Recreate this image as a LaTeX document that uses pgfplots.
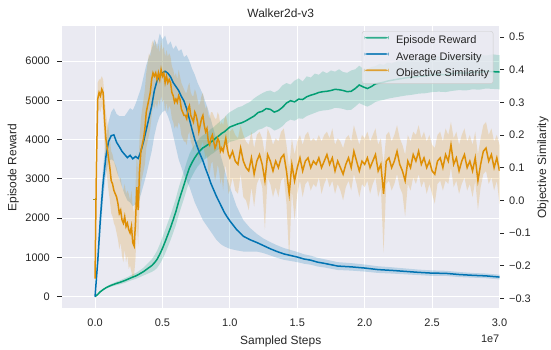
\documentclass[border=0pt]{standalone}
\usepackage{pgfplots}
\pgfplotsset{compat=1.18}
\usepackage{pgfplotstable}
\usepgfplotslibrary{fillbetween}
\usepackage{fontspec}
\setmainfont{Liberation Sans}
\definecolor{cgreen}{HTML}{029E73}
\definecolor{cblue}{HTML}{0173B2}
\definecolor{corange}{HTML}{DE8F05}
\definecolor{bgc}{HTML}{EAEAF2}
\definecolor{txt}{HTML}{262626}
\definecolor{legedge}{HTML}{CCCCCC}

\pgfplotstableread{
x y lo hi
0.00 0 0 0
0.02 60 50 75
0.04 130 115 145
0.06 180 160 200
0.08 225 200 250
0.10 260 230 290
0.12 290 255 325
0.14 315 275 355
0.16 340 295 385
0.18 360 310 410
0.20 385 330 440
0.22 410 350 470
0.24 440 380 500
0.26 470 405 535
0.28 500 430 570
0.30 525 450 600
0.32 560 480 640
0.34 600 510 690
0.36 640 540 740
0.38 690 570 810
0.40 740 600 880
0.42 790 630 950
0.44 860 670 1050
0.46 950 730 1170
0.48 1080 830 1330
0.50 1230 950 1510
0.52 1400 1100 1700
0.54 1580 1270 1890
0.56 1760 1440 2080
0.58 1960 1630 2290
0.60 2170 1830 2510
0.62 2420 2070 2770
0.64 2640 2290 2990
0.66 2850 2500 3200
0.68 3080 2730 3430
0.70 3280 2930 3630
0.72 3420 3070 3770
0.74 3540 3200 3880
0.76 3640 3310 3970
0.78 3720 3390 4050
0.80 3790 3470 4110
0.82 3830 3510 4150
0.84 3880 3560 4200
0.86 3940 3620 4270
0.88 3990 3660 4320
0.90 4050 3720 4380
0.92 4100 3760 4440
0.94 4160 3810 4510
0.96 4200 3840 4560
0.98 4260 3890 4640
1.00 4320 3940 4700
1.03 4360 3970 4760
1.06 4400 4000 4820
1.09 4430 4020 4850
1.12 4480 4060 4910
1.15 4540 4120 4960
1.18 4600 4170 5050
1.21 4690 4250 5120
1.24 4720 4280 5180
1.27 4790 4340 5230
1.30 4770 4310 5250
1.33 4700 4230 5200
1.36 4740 4270 5260
1.39 4820 4340 5380
1.42 4930 4450 5440
1.45 4990 4510 5400
1.48 4960 4480 5500
1.51 5030 4540 5560
1.54 5020 4530 5480
1.57 5090 4600 5610
1.60 5130 4640 5580
1.63 5160 4680 5680
1.66 5200 4720 5650
1.69 5220 4740 5740
1.72 5230 4750 5690
1.75 5250 4770 5760
1.78 5280 4810 5730
1.81 5270 4800 5790
1.84 5250 4780 5720
1.87 5220 4750 5700
1.90 5230 4760 5760
1.93 5300 4840 5790
1.96 5390 4930 5880
1.99 5340 4880 5800
2.02 5300 4840 5790
2.05 5350 4890 5850
2.08 5420 4960 5870
2.11 5440 4990 5930
2.14 5460 5010 5900
2.17 5490 5040 5960
2.20 5510 5060 5940
2.25 5540 5090 6010
2.30 5570 5120 6000
2.35 5590 5140 6060
2.40 5610 5170 6040
2.45 5620 5180 6090
2.50 5650 5210 6070
2.55 5660 5220 6120
2.60 5650 5210 6080
2.65 5680 5240 6130
2.70 5700 5260 6110
2.75 5690 5250 6150
2.80 5720 5280 6130
2.85 5710 5270 6160
2.90 5740 5300 6140
2.95 5730 5290 6170
3.00 5720 5280 6150
}\greendata

\pgfplotstableread{
x y lo hi
0.00 0 0 0
0.02 900 700 1100
0.04 2000 1600 2400
0.06 2900 2500 3300
0.08 3550 3100 4000
0.10 3950 3450 4450
0.12 4100 3500 4700
0.14 4120 3450 4800
0.16 3930 3200 4650
0.18 3820 3000 4600
0.20 3700 2800 4600
0.22 3620 2600 4600
0.24 3540 2450 4700
0.26 3600 2400 4800
0.28 3510 2300 4750
0.30 3570 2350 4900
0.32 3520 2400 5100
0.34 3700 2600 5300
0.36 3950 2850 5600
0.38 4250 3100 5900
0.40 4550 3400 6100
0.42 4850 3700 6300
0.44 5250 4100 6550
0.46 5500 4400 6400
0.48 5620 4600 6700
0.50 5700 4700 6550
0.52 5740 4750 6650
0.54 5690 4600 6400
0.56 5600 4400 6500
0.58 5450 4100 6300
0.60 5350 3800 6400
0.62 5250 3500 6250
0.64 5100 3300 6300
0.66 4980 3100 6100
0.68 4780 2950 6150
0.70 4520 2800 6000
0.72 4250 2600 5800
0.74 4000 2400 5650
0.76 3800 2250 5450
0.78 3620 2100 5300
0.80 3460 1950 5150
0.82 3260 1850 4950
0.84 3080 1750 4750
0.86 2880 1650 4500
0.88 2720 1550 4250
0.90 2560 1450 4000
0.92 2420 1380 3750
0.94 2280 1320 3500
0.96 2140 1280 3250
0.98 2030 1250 3000
1.00 1930 1220 2800
1.05 1710 1180 2300
1.10 1540 1150 1950
1.15 1450 1150 1750
1.20 1380 1150 1600
1.25 1300 1110 1480
1.30 1220 1050 1390
1.35 1150 990 1310
1.40 1090 940 1240
1.45 1050 910 1190
1.50 1010 880 1140
1.55 960 840 1080
1.60 930 815 1045
1.65 880 770 990
1.70 850 745 955
1.80 780 680 880
1.90 760 665 855
2.00 730 640 820
2.10 690 605 775
2.20 670 590 750
2.30 645 570 720
2.40 620 550 690
2.50 600 530 670
2.60 595 530 660
2.70 565 500 630
2.80 545 485 605
2.90 530 470 590
3.00 500 440 560
}\bluedata

\pgfplotstableread{
x y lo hi
0.00 -0.24 -0.25 -0.23
0.01 0.10 0.00 0.20
0.02 0.31 0.26 0.36
0.03 0.33 0.28 0.37
0.04 0.32 0.27 0.37
0.05 0.34 0.29 0.38
0.06 0.33 0.27 0.37
0.07 0.25 0.17 0.32
0.08 0.19 0.10 0.27
0.09 0.16 0.07 0.24
0.10 0.13 0.03 0.22
0.11 0.10 0.00 0.19
0.12 0.06 -0.04 0.15
0.13 0.05 -0.05 0.14
0.14 0.03 -0.07 0.12
0.15 0.02 -0.08 0.11
0.16 0.01 -0.10 0.10
0.17 -0.01 -0.12 0.08
0.18 -0.04 -0.15 0.06
0.19 -0.03 -0.13 0.07
0.20 -0.06 -0.17 0.04
0.21 -0.07 -0.19 0.03
0.22 -0.05 -0.15 0.05
0.23 -0.08 -0.19 0.02
0.24 -0.07 -0.17 0.03
0.25 -0.09 -0.21 0.02
0.26 -0.10 -0.20 0.00
0.27 -0.08 -0.22 0.03
0.28 -0.13 -0.24 -0.02
0.29 -0.14 -0.23 -0.04
0.30 -0.07 -0.18 0.04
0.31 0.04 -0.08 0.15
0.32 -0.03 -0.14 0.08
0.33 0.09 -0.02 0.19
0.34 0.15 0.05 0.25
0.35 0.17 0.07 0.28
0.36 0.19 0.09 0.31
0.37 0.22 0.11 0.34
0.38 0.27 0.16 0.39
0.39 0.29 0.18 0.42
0.40 0.31 0.20 0.45
0.41 0.33 0.22 0.44
0.42 0.37 0.26 0.48
0.43 0.39 0.29 0.49
0.44 0.38 0.28 0.47
0.45 0.39 0.30 0.49
0.46 0.37 0.28 0.46
0.47 0.39 0.31 0.48
0.48 0.37 0.29 0.45
0.49 0.40 0.32 0.49
0.50 0.38 0.30 0.46
0.51 0.39 0.31 0.47
0.52 0.36 0.27 0.44
0.53 0.38 0.30 0.46
0.54 0.36 0.27 0.44
0.55 0.37 0.29 0.45
0.56 0.36 0.28 0.44
0.57 0.33 0.25 0.41
0.58 0.32 0.24 0.40
0.59 0.30 0.22 0.38
0.60 0.31 0.23 0.39
0.61 0.30 0.22 0.37
0.62 0.32 0.24 0.40
0.63 0.31 0.23 0.38
0.64 0.28 0.20 0.36
0.65 0.27 0.19 0.35
0.66 0.26 0.18 0.34
0.67 0.26 0.18 0.33
0.68 0.25 0.17 0.33
0.69 0.28 0.20 0.35
0.70 0.29 0.21 0.36
0.71 0.26 0.18 0.33
0.72 0.25 0.17 0.32
0.73 0.24 0.15 0.32
0.74 0.27 0.19 0.34
0.75 0.26 0.18 0.33
0.76 0.24 0.16 0.31
0.77 0.21 0.12 0.29
0.78 0.23 0.15 0.30
0.79 0.25 0.17 0.32
0.80 0.26 0.18 0.33
0.81 0.23 0.15 0.30
0.82 0.21 0.13 0.28
0.83 0.22 0.14 0.29
0.84 0.18 0.09 0.26
0.85 0.17 0.08 0.25
0.86 0.19 0.11 0.27
0.87 0.20 0.12 0.27
0.88 0.18 0.09 0.26
0.89 0.16 0.06 0.25
0.90 0.17 0.08 0.25
0.91 0.19 0.11 0.27
0.92 0.18 0.09 0.26
0.93 0.15 0.05 0.23
0.94 0.16 0.07 0.24
0.95 0.15 0.03 0.23
0.96 0.17 0.08 0.25
0.97 0.19 0.11 0.26
0.98 0.16 0.06 0.24
0.99 0.14 0.02 0.22
1.00 0.13 0.03 0.21
1.02 0.15 0.07 0.22
1.04 0.12 0.03 0.20
1.06 0.11 0.02 0.19
1.08 0.16 0.08 0.23
1.10 0.12 0.01 0.20
1.12 0.10 0.00 0.18
1.14 0.09 -0.03 0.17
1.16 0.13 0.04 0.21
1.18 0.08 -0.02 0.16
1.20 0.12 0.05 0.20
1.22 0.14 0.07 0.21
1.24 0.11 0.04 0.19
1.26 0.06 -0.09 0.14
1.28 0.14 0.07 0.22
1.30 0.12 0.05 0.20
1.32 0.09 0.01 0.17
1.34 0.12 0.04 0.19
1.36 0.10 0.01 0.18
1.38 0.13 0.06 0.21
1.40 0.14 0.07 0.22
1.42 0.09 -0.01 0.17
1.44 0.02 -0.18 0.10
1.46 0.11 0.03 0.19
1.48 0.06 -0.06 0.14
1.50 0.10 0.02 0.18
1.52 0.13 0.06 0.20
1.54 0.09 0.01 0.17
1.56 0.12 0.05 0.20
1.58 0.13 0.06 0.21
1.60 0.10 0.03 0.18
1.62 0.12 0.05 0.19
1.64 0.11 0.04 0.18
1.66 0.13 0.07 0.20
1.68 0.10 0.02 0.18
1.70 0.12 0.05 0.20
1.72 0.14 0.07 0.21
1.74 0.11 0.04 0.19
1.76 0.13 0.06 0.22
1.78 0.09 0.02 0.17
1.80 0.12 0.05 0.19
1.82 0.10 0.03 0.18
1.84 0.08 0.00 0.16
1.86 0.11 0.04 0.19
1.88 0.13 0.06 0.20
1.90 0.10 0.03 0.18
1.92 0.15 0.08 0.23
1.94 0.12 0.05 0.20
1.96 0.09 0.01 0.17
1.98 0.12 0.05 0.20
2.00 0.11 0.04 0.19
2.02 0.13 0.06 0.21
2.04 0.10 0.02 0.18
2.06 0.12 0.05 0.20
2.08 0.14 0.07 0.22
2.10 0.09 0.01 0.17
2.12 0.11 0.04 0.19
2.14 0.02 -0.16 0.11
2.16 0.12 0.05 0.20
2.18 0.13 0.06 0.21
2.20 0.10 0.03 0.18
2.22 0.12 0.05 0.20
2.24 0.15 0.08 0.23
2.26 0.11 0.04 0.19
2.28 0.09 0.02 0.17
2.30 0.06 -0.05 0.14
2.32 0.12 0.05 0.20
2.34 0.10 0.03 0.18
2.36 0.14 0.07 0.21
2.38 0.12 0.05 0.20
2.40 0.15 0.08 0.23
2.42 0.11 0.04 0.19
2.44 0.13 0.06 0.21
2.46 0.10 0.02 0.18
2.48 0.12 0.05 0.20
2.50 0.09 0.02 0.17
2.52 0.08 -0.01 0.16
2.54 0.12 0.05 0.20
2.56 0.13 0.06 0.21
2.58 0.10 0.03 0.18
2.60 0.14 0.06 0.22
2.62 0.12 0.05 0.20
2.64 0.17 0.10 0.24
2.66 0.11 0.04 0.19
2.68 0.13 0.06 0.21
2.70 0.09 0.02 0.17
2.72 0.12 0.05 0.20
2.74 0.14 0.07 0.22
2.76 0.10 0.03 0.18
2.78 0.12 0.05 0.20
2.80 0.09 0.01 0.17
2.82 0.13 0.06 0.21
2.84 0.06 -0.03 0.14
2.86 0.11 0.04 0.19
2.88 0.15 0.08 0.23
2.90 0.16 0.09 0.24
2.92 0.12 0.05 0.20
2.94 0.14 0.07 0.22
2.96 0.10 0.03 0.18
2.98 0.13 0.06 0.20
3.00 0.09 -0.01 0.17
}\orangedata

\begin{document}
\begin{tikzpicture}
\pgfplotsset{
  common/.style={
    width=437.5bp, height=282.3bp, scale only axis,
    at={(0,0)}, anchor=south west,
    xmin=-0.245, xmax=3.0,
    /pgf/number format/assume math mode=true,
    tick label style={font=\fontsize{11}{13}\selectfont, text=txt},
  },
}
\begin{axis}[common, name=ax1,
  ymin=-295, ymax=6892,
  axis background/.style={fill=bgc},
  axis line style={draw=none},
  grid=major, major grid style={white, line width=1bp},
  xtick={0,0.5,1,1.5,2,2.5,3},
  xticklabels={0.0,0.5,1.0,1.5,2.0,2.5,3.0},
  ytick={0,1000,2000,3000,4000,5000,6000},
  yticklabels={0,1000,2000,3000,4000,5000,6000},
  xtick pos=bottom, ytick pos=left,
  tick align=outside, major tick length=5bp,
  xtick style={draw=none},
  ytick style={draw=txt, line width=0.8bp},
  xticklabel style={anchor=base, inner sep=0pt, yshift=-13bp},
  yticklabel style={anchor=east, inner sep=0pt, xshift=-7bp},
  every axis title/.style={at={(axis description cs:0.5,1.046)}, anchor=center, font=\fontsize{12}{14}\selectfont, text=txt},
  title={Walker2d-v3},
  every axis x label/.style={at={(axis description cs:0.5,-0.1183)}, anchor=center, font=\fontsize{12}{14}\selectfont, text=txt},
  xlabel={Sampled Steps},
  every axis y label/.style={at={(axis description cs:-0.1113,0.498)}, rotate=90, anchor=center, font=\fontsize{12}{14}\selectfont, text=txt},
  ylabel={Episode Reward},
  legend cell align=left,
  legend style={at={(axis description cs:0.986,0.982)}, anchor=north east,
    fill=bgc, fill opacity=0.8, text opacity=1, draw=legedge, rounded corners=2.5bp,
    font=\fontsize{11}{13}\selectfont, text=txt,
    inner xsep=2.5bp, inner ysep=3.2bp, row sep=3bp, column sep=6bp,
    nodes={inner sep=1.5bp, text height=8bp, text depth=2.3bp}},
  legend image code/.code={\fill[#1, draw=none] (0bp,2.5bp) rectangle (24bp,4.3bp);},
]
\addplot[name path=gu, draw=none, forget plot] table[x=x, y=hi] {\greendata};
\addplot[name path=gl, draw=none, forget plot] table[x=x, y=lo] {\greendata};
\addplot[fill=cgreen, fill opacity=0.2, draw=none, forget plot] fill between[of=gu and gl];
\addplot[color=cgreen, line width=1.5bp] table[x=x, y=y] {\greendata};
\addlegendentry{Episode Reward}
\addplot[name path=bu, draw=none, forget plot] table[x=x, y=hi] {\bluedata};
\addplot[name path=bl, draw=none, forget plot] table[x=x, y=lo] {\bluedata};
\addplot[fill=cblue, fill opacity=0.2, draw=none, forget plot] fill between[of=bu and bl];
\addplot[color=cblue, line width=1.5bp] table[x=x, y=y] {\bluedata};
\addlegendentry{Average Diversity}
\addplot[only marks, mark=+, mark size=2bp, color={rgb,255:red,160;green,150;blue,40}, forget plot] coordinates {(0,2470)};
\addlegendimage{color=corange, line width=1.5bp}
\addlegendentry{Objective Similarity}
\end{axis}
\begin{axis}[common,
  ymin=-0.3306, ymax=0.5337,
  axis x line=none, axis y line*=right,
  axis line style={draw=none},
  ytick={-0.3,-0.2,-0.1,0,0.1,0.2,0.3,0.4,0.5},
  yticklabels={−0.3,−0.2,−0.1,0.0,0.1,0.2,0.3,0.4,0.5},
  tick align=outside, major tick length=4.5bp,
  ytick style={draw=txt, line width=0.8bp},
  yticklabel style={anchor=west, inner sep=0pt, xshift=5bp},
  every axis y label/.style={at={(axis description cs:1.0994,0.498)}, rotate=90, anchor=center, font=\fontsize{12}{14}\selectfont, text=txt},
  ylabel={Objective Similarity},
]
\addplot[name path=ou, draw=none, forget plot] table[x=x, y=hi] {\orangedata};
\addplot[name path=ol, draw=none, forget plot] table[x=x, y=lo] {\orangedata};
\addplot[fill=corange, fill opacity=0.2, draw=none, forget plot] fill between[of=ou and ol];
\addplot[color=corange, line width=1.5bp, forget plot] table[x=x, y=y] {\orangedata};
\end{axis}
\node[anchor=north east, inner sep=0pt, font=\fontsize{11}{13}\selectfont, text=txt] at ([yshift=-26.7bp]ax1.south east) {1e7};
\pgfresetboundingbox
\path[use as bounding box] (-62bp,-41.7bp) rectangle (489bp,308.3bp);
\end{tikzpicture}
\end{document}
